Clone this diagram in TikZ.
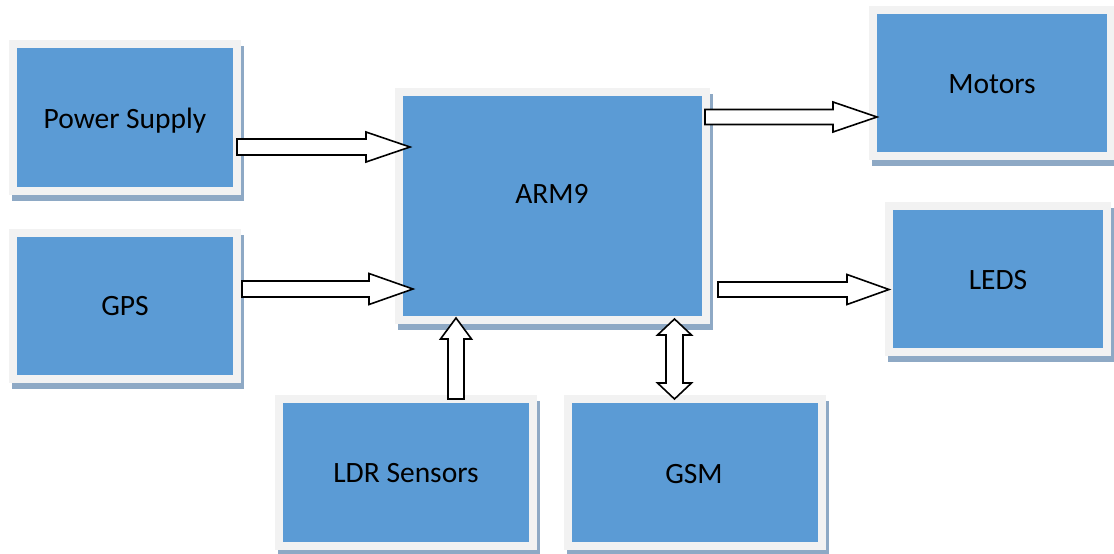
\documentclass[tikz,border=0pt]{standalone}
\usepackage{fontspec}
\setmainfont{Carlito}
\usetikzlibrary{calc}
\definecolor{boxblue}{HTML}{5B9BD5}
\definecolor{framecol}{HTML}{F2F2F2}
\definecolor{shadowcol}{HTML}{8EA9C5}
\tikzset{
  box/.style={draw=framecol, line width=8pt, fill=boxblue, inner sep=0pt, outer sep=0pt,
    preaction={draw=shadowcol, fill=shadowcol, transform canvas={shift={(3pt,-6pt)}}}},
  lbl/.style={anchor=base, inner sep=0pt, font=\fontsize{29.5}{35}\selectfont, text=black},
  arrowbody/.style={draw=black, fill=white, line width=1.6pt, line join=miter}
}
% start, end, shaft half width, head half width, head length
\newcommand{\rightblock}[5]{%
  \draw[arrowbody] let \p1=(#1), \p2=(#2) in
  (\x1,\y1+#3pt) -- (\x2-#5pt,\y1+#3pt) -- (\x2-#5pt,\y1+#4pt) -- (\x2,\y1)
  -- (\x2-#5pt,\y1-#4pt) -- (\x2-#5pt,\y1-#3pt) -- (\x1,\y1-#3pt) -- cycle;}
\newcommand{\upblock}[5]{%
  \draw[arrowbody] let \p1=(#1), \p2=(#2) in
  (\x1-#3pt,\y1) -- (\x1-#3pt,\y2-#5pt) -- (\x1-#4pt,\y2-#5pt) -- (\x1,\y2)
  -- (\x1+#4pt,\y2-#5pt) -- (\x1+#3pt,\y2-#5pt) -- (\x1+#3pt,\y1) -- cycle;}
\newcommand{\updownblock}[5]{%
  \draw[arrowbody] let \p1=(#1), \p2=(#2) in
  (\x1,\y1) -- (\x1-#4pt,\y1+#5pt) -- (\x1-#3pt,\y1+#5pt) -- (\x1-#3pt,\y2-#5pt)
  -- (\x1-#4pt,\y2-#5pt) -- (\x1,\y2) -- (\x1+#4pt,\y2-#5pt) -- (\x1+#3pt,\y2-#5pt)
  -- (\x1+#3pt,\y1+#5pt) -- (\x1+#4pt,\y1+#5pt) -- cycle;}
\begin{document}
\begin{tikzpicture}[x=1pt,y=-1pt]
\useasboundingbox (0,0) rectangle (1114,554);
% boxes
\node[box, minimum width=224pt, minimum height=147pt] (ps)  at (125,117.5) {};
\node[box, minimum width=224pt, minimum height=146pt] (gps) at (125,306) {};
\node[box, minimum width=307pt, minimum height=228pt] (arm) at (552.5,206) {};
\node[box, minimum width=238pt, minimum height=146pt] (mot) at (992,83) {};
\node[box, minimum width=218pt, minimum height=146pt] (led) at (998,279) {};
\node[box, minimum width=254pt, minimum height=147pt] (ldr) at (406,472.5) {};
\node[box, minimum width=254pt, minimum height=147pt] (gsm) at (695,472.5) {};
% labels
\node[lbl] (psT)  at (125,128) {Power Supply};
\node[lbl] (gpsT) at (125,315) {GPS};
\node[lbl] (armT) at (552,203) {ARM9};
\node[lbl] (motT) at (992,93) {Motors};
\node[lbl] (ledT) at (998,289) {LEDS};
\node[lbl] (ldrT) at (406,482) {LDR Sensors};
\node[lbl] (gsmT) at (694,483) {GSM};
% connector ends
\coordinate (a1s) at (ps.east |- 0,147);
\coordinate (a1e) at ($(arm.west |- 0,147)+(11,0)$);
\coordinate (a2s) at ($(gps.east |- 0,289)+(5,0)$);
\coordinate (a2e) at ($(arm.west |- 0,289)+(14,0)$);
\coordinate (a3s) at ($(arm.east |- 0,117)+(-1,0)$);
\coordinate (a3e) at ($(mot.west |- 0,117)+(4,0)$);
\coordinate (a4s) at ($(arm.east |- 0,289.5)+(12,0)$);
\coordinate (a4e) at (led.west |- 0,289.5);
\coordinate (a5s) at (456,0 |- ldr.north);
\coordinate (a5e) at ($(456,0 |- arm.south)+(0,-2)$);
\coordinate (a6s) at (674.5,0 |- gsm.north);
\coordinate (a6e) at ($(674.5,0 |- arm.south)+(0,-1)$);
% connectors
\rightblock{a1s}{a1e}{8}{15}{44}
\rightblock{a2s}{a2e}{8}{15.5}{44}
\rightblock{a3s}{a3e}{7.5}{15}{44}
\rightblock{a4s}{a4e}{7.5}{15}{42}
\upblock{a5s}{a5e}{8}{15.5}{21}
\updownblock{a6s}{a6e}{8.5}{17}{16}
\end{tikzpicture}
\end{document}
